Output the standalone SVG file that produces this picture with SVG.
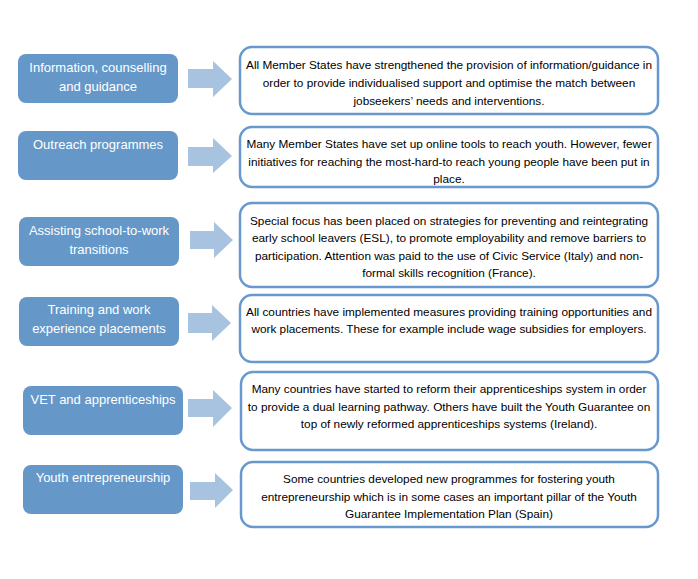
<svg xmlns="http://www.w3.org/2000/svg" width="698" height="579" viewBox="0 0 698 579">
<style>
.cat rect{fill:#6598c9;}
.cat text{fill:#ffffff;font-family:"Liberation Sans",Arial,sans-serif;font-size:13px;text-anchor:middle;}
.desc rect{fill:#ffffff;stroke:#6799cf;stroke-width:2.5;}
.desc text{fill:#000000;font-family:"Liberation Sans",Arial,sans-serif;font-size:11.8px;text-anchor:middle;}
.arrow{fill:#a7c3e0;}
</style>
<rect x="0" y="0" width="698" height="579" fill="#ffffff"/>

<g id="cat1" class="cat"><rect x="18" y="54" width="160" height="49" rx="8"/><text x="98" y="72">Information, counselling</text><text x="98" y="91">and guidance</text></g>
<g id="cat2" class="cat"><rect x="18" y="131" width="160" height="49" rx="8"/><text x="98" y="149">Outreach programmes</text></g>
<g id="cat3" class="cat"><rect x="19" y="217" width="160" height="49" rx="8"/><text x="99" y="235">Assisting school-to-work</text><text x="99" y="254">transitions</text></g>
<g id="cat4" class="cat"><rect x="19" y="297" width="160" height="49" rx="8"/><text x="99" y="314">Training and work</text><text x="99" y="333">experience placements</text></g>
<g id="cat5" class="cat"><rect x="23" y="386" width="160" height="49" rx="8"/><text x="103" y="404">VET and apprenticeships</text></g>
<g id="cat6" class="cat"><rect x="23" y="465" width="160" height="49" rx="8"/><text x="103" y="482">Youth entrepreneurship</text></g>

<g id="desc1" class="desc"><rect x="240" y="47" width="418" height="67" rx="12"/>
<text x="449" y="69">All Member States have strengthened the provision of information/guidance in</text>
<text x="449" y="87">order to provide individualised support and optimise the match between</text>
<text x="449" y="105">jobseekers’ needs and interventions.</text></g>
<g id="desc2" class="desc"><rect x="240" y="127" width="418" height="60" rx="12"/>
<text x="449" y="148">Many Member States have set up online tools to reach youth. However, fewer</text>
<text x="449" y="166">initiatives for reaching the most-hard-to reach young people have been put in</text>
<text x="449" y="183">place.</text></g>
<g id="desc3" class="desc"><rect x="240" y="203" width="418" height="84" rx="12"/>
<text x="449" y="225">Special focus has been placed on strategies for preventing and reintegrating</text>
<text x="449" y="242">early school leavers (ESL), to promote employability and remove barriers to</text>
<text x="449" y="260">participation. Attention was paid to the use of Civic Service (Italy) and non-</text>
<text x="449" y="277">formal skills recognition (France).</text></g>
<g id="desc4" class="desc"><rect x="240" y="295" width="418" height="67" rx="12"/>
<text x="449" y="316">All countries have implemented measures providing training opportunities and</text>
<text x="449" y="333">work placements. These for example include wage subsidies for employers.</text></g>
<g id="desc5" class="desc"><rect x="241" y="372" width="417" height="78" rx="12"/>
<text x="449" y="393">Many countries have started to reform their apprenticeships system in order</text>
<text x="449" y="411">to provide a dual learning pathway. Others have built the Youth Guarantee on</text>
<text x="449" y="428">top of newly reformed apprenticeships systems (Ireland).</text></g>
<g id="desc6" class="desc"><rect x="241" y="462" width="417" height="65" rx="12"/>
<text x="449" y="483">Some countries developed new programmes for fostering youth</text>
<text x="449" y="501">entrepreneurship which is in some cases an important pillar of the Youth</text>
<text x="449" y="518">Guarantee Implementation Plan (Spain)</text></g>

<g id="connectors">
<polygon class="arrow" points="188,69 213,69 213,61 232,79 213,97 213,88 188,88"/>
<polygon class="arrow" points="188,147 213,147 213,138 232,156 213,173 213,166 188,166"/>
<polygon class="arrow" points="190,231 214,231 214,222 233,240 214,258 214,249 190,249"/>
<polygon class="arrow" points="188,313 212,313 212,305 231,323 212,341 212,333 188,333"/>
<polygon class="arrow" points="188,399 213,399 213,390 232,408 213,427 213,417 188,417"/>
<polygon class="arrow" points="190,482 215,482 215,473 233,490 215,508 215,500 190,500"/>
</g>
</svg>
